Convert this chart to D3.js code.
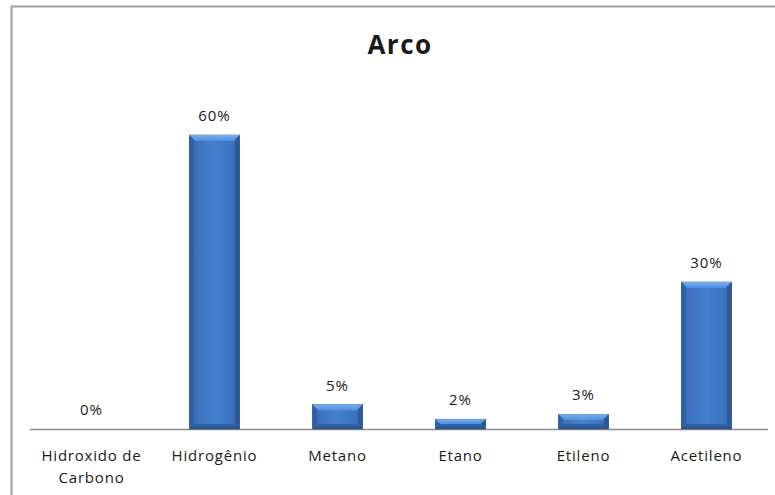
<!DOCTYPE html>
<html>
<head>
<meta charset="utf-8">
<script src="https://cdn.jsdelivr.net/npm/d3@7"></script>
<style>
  html, body { margin: 0; padding: 0; background: #fff; }
  svg { display: block; }
  text { font-family: "Open Sans", "Noto Sans", sans-serif; fill: #1a1a1a; }
</style>
</head>
<body>
<svg id="chart" width="775" height="495"></svg>
<script>
// Gas composition produced by the arc process
const categories = ["Hidroxido de\nCarbono", "Hidrogênio", "Metano", "Etano", "Etileno", "Acetileno"];
const values = [0, 60, 5, 2, 3, 30];
const valueLabels = ["0%", "60%", "5%", "2%", "3%", "30%"];
const title = "Arco";

const W = 775, H = 495;
const svg = d3.select("#chart");

// Chart area frame (extends past the right and bottom edges)
svg.append("rect")
  .attr("x", 11.5).attr("y", 6.5)
  .attr("width", 800).attr("height", 600)
  .attr("fill", "#fff")
  .attr("stroke", "#a0a0a0")
  .attr("stroke-width", 2);

const x = d3.scaleBand().domain(categories).range([30, 768]).paddingInner(0.59).paddingOuter(0.295);
const y = d3.scaleLinear().domain([0, 60]).range([429, 135]);

// Bar shading
const defs = svg.append("defs");
const g1 = defs.append("linearGradient").attr("id", "barBody").attr("x1", "0").attr("x2", "1").attr("y1", "0").attr("y2", "0");
[[0, "#2d5b9a"], [0.1, "#3c70bc"], [0.5, "#4380cf"], [0.9, "#3c70bc"], [1, "#2d5b9a"]]
  .forEach(([o, c]) => g1.append("stop").attr("offset", o).attr("stop-color", c));
const g2 = defs.append("linearGradient").attr("id", "barTop").attr("x1", "0").attr("x2", "0").attr("y1", "0").attr("y2", "1");
[[0, "#78b0f0"], [1, "#4d8ddb"]]
  .forEach(([o, c]) => g2.append("stop").attr("offset", o).attr("stop-color", c));
const g3 = defs.append("linearGradient").attr("id", "barBottom").attr("x1", "0").attr("x2", "0").attr("y1", "0").attr("y2", "1");
[[0, "#3466ad"], [1, "#264f88"]]
  .forEach(([o, c]) => g3.append("stop").attr("offset", o).attr("stop-color", c));

// Title
svg.append("text")
  .attr("x", 400).attr("y", 54)
  .attr("text-anchor", "middle")
  .style("font-size", "26px").style("font-weight", "bold")
  .style("letter-spacing", "1.5px")
  .text(title);

// Axis baseline
svg.append("line")
  .attr("x1", 30).attr("x2", 768)
  .attr("y1", 429.5).attr("y2", 429.5)
  .attr("stroke", "#8c8c8c").attr("stroke-width", 1.5);

const data = categories.map((c, i) => ({ c, v: values[i], label: valueLabels[i] }));
const bars = svg.append("g").selectAll("g").data(data.filter(d => d.v > 0)).join("g");
const bw = x.bandwidth();

bars.append("rect")
  .attr("x", d => x(d.c)).attr("y", d => y(d.v))
  .attr("width", bw).attr("height", d => y(0) - y(d.v))
  .attr("fill", "url(#barBody)")
  .attr("stroke", "#2f5d9c").attr("stroke-width", 0.6);

// Bevel: top facet
bars.append("path")
  .attr("fill", "url(#barTop)")
  .attr("d", d => {
    const x0 = x(d.c), x1 = x0 + bw, t = y(d.v);
    const b = Math.min(6, (y(0) - t) / 2);
    return `M${x0},${t}L${x1},${t}L${x1 - b},${t + b}L${x0 + b},${t + b}Z`;
  });
// Bevel: bottom facet
bars.append("path")
  .attr("fill", "url(#barBottom)")
  .attr("d", d => {
    const x0 = x(d.c), x1 = x0 + bw, bot = y(0), t = y(d.v);
    const b = Math.min(5, (bot - t) / 2);
    return `M${x0},${bot}L${x1},${bot}L${x1 - b},${bot - b}L${x0 + b},${bot - b}Z`;
  });
// Bevel: side facets
bars.append("path")
  .attr("fill", "#30609f").attr("opacity", 0.7)
  .attr("d", d => {
    const x0 = x(d.c), bot = y(0), t = y(d.v);
    const b = Math.min(5, (bot - t) / 2);
    return `M${x0},${t}L${x0 + b},${t + b}L${x0 + b},${bot - b}L${x0},${bot}Z`;
  });
bars.append("path")
  .attr("fill", "#2a5590").attr("opacity", 0.7)
  .attr("d", d => {
    const x1 = x(d.c) + bw, bot = y(0), t = y(d.v);
    const b = Math.min(5, (bot - t) / 2);
    return `M${x1},${t}L${x1 - b},${t + b}L${x1 - b},${bot - b}L${x1},${bot}Z`;
  });

// Value labels
svg.append("g").selectAll("text").data(data).join("text")
  .attr("x", d => x(d.c) + bw / 2)
  .attr("y", d => y(d.v) - 14)
  .attr("text-anchor", "middle")
  .style("font-size", "15px")
  .style("letter-spacing", "1px")
  .text(d => d.label);

// Category labels
const cat = svg.append("g").selectAll("text").data(categories).join("text")
  .attr("x", d => x(d) + bw / 2)
  .attr("y", 461)
  .attr("text-anchor", "middle")
  .style("font-size", "15px")
  .style("letter-spacing", "0.8px");
cat.selectAll("tspan").data(d => d.split("\n").map((s, i) => ({ s, i, x: x(d) + bw / 2 })))
  .join("tspan")
  .attr("x", t => t.x)
  .attr("dy", t => t.i === 0 ? 0 : 22)
  .text(t => t.s);
</script>
</body>
</html>
